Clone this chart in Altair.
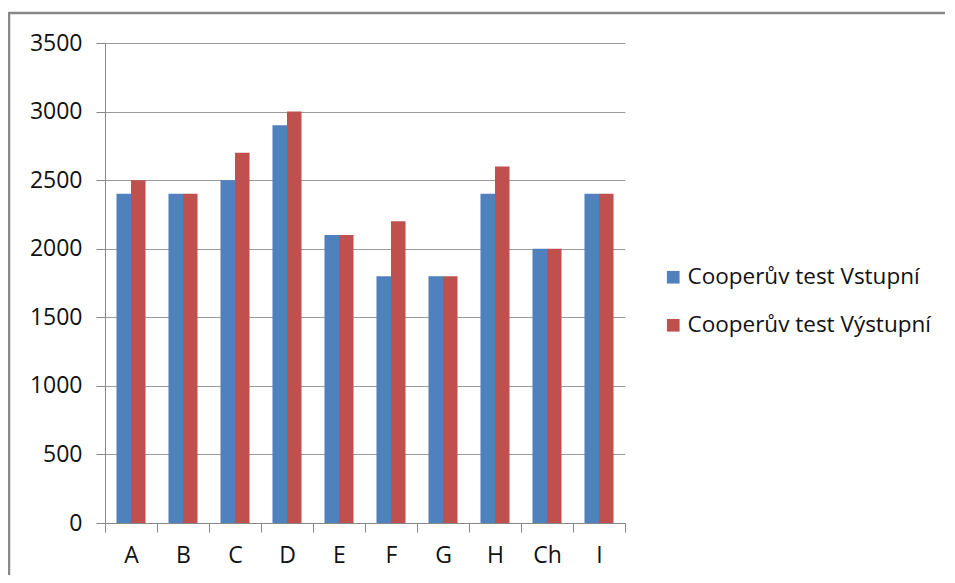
import altair as alt
import pandas as pd

categories = ["A", "B", "C", "D", "E", "F", "G", "H", "Ch", "I"]
series_names = ["Cooperův test Vstupní", "Cooperův test Výstupní"]
vstupni = [2400, 2400, 2500, 2900, 2100, 1800, 1800, 2400, 2000, 2400]
vystupni = [2500, 2400, 2700, 3000, 2100, 2200, 1800, 2600, 2000, 2400]
y_ticks = [0, 500, 1000, 1500, 2000, 2500, 3000, 3500]
colors = ["#4F81BD", "#C0504D"]

rows = []
for c, v1, v2 in zip(categories, vstupni, vystupni):
    rows.append({"cat": c, "series": series_names[0], "value": v1})
    rows.append({"cat": c, "series": series_names[1], "value": v2})
df = pd.DataFrame(rows)

FONT = "Open Sans"
FS = 23
TXT = "#111111"

bars = alt.Chart(df).mark_bar(stroke=None).encode(
    x=alt.X("cat:N", sort=categories, title=None,
            scale=alt.Scale(paddingInner=0, paddingOuter=0),
            axis=alt.Axis(labelAngle=0, tickBand="extent", tickSize=9,
                          labelPadding=12, domainColor="#888888", tickColor="#888888",
                          labelFont=FONT, labelFontSize=FS, labelColor=TXT,
                          grid=False)),
    xOffset=alt.XOffset("series:N", sort=series_names,
                        scale=alt.Scale(paddingInner=0, paddingOuter=0.79)),
    y=alt.Y("value:Q", title=None,
            scale=alt.Scale(domain=[0, 3500], nice=False),
            axis=alt.Axis(values=y_ticks, format="d", tickSize=9, labelPadding=14,
                          domainColor="#888888", tickColor="#888888",
                          gridColor="#9a9a9a", grid=True,
                          labelFont=FONT, labelFontSize=FS, labelColor=TXT)),
    color=alt.Color("series:N", sort=series_names,
                    scale=alt.Scale(domain=series_names, range=colors),
                    legend=alt.Legend(title=None, orient="none", legendX=557, legendY=223,
                                      symbolType="square", symbolSize=160,
                                      symbolStrokeWidth=0, labelFont=FONT,
                                      labelFontSize=22.5, labelColor=TXT,
                                      labelLimit=400, rowPadding=25, labelOffset=3)),
)

frame_df = pd.DataFrame({"a": [0]})
top_line = alt.Chart(frame_df).mark_rule(color="#888888", strokeWidth=2.5).encode(
    x=alt.value(-96), x2=alt.value(850), y=alt.value(-30))
left_line = alt.Chart(frame_df).mark_rule(color="#888888", strokeWidth=2.5).encode(
    x=alt.value(-96), y=alt.value(-31), y2=alt.value(540))

chart = alt.layer(bars, top_line, left_line).properties(
    width=520, height=480,
    autosize=alt.AutoSizeParams(type="none"),
    padding={"left": 97, "top": 35, "right": 320, "bottom": 52},
).configure_view(stroke=None)

chart.save("out.html", embed_options={"renderer": "svg", "actions": False})
